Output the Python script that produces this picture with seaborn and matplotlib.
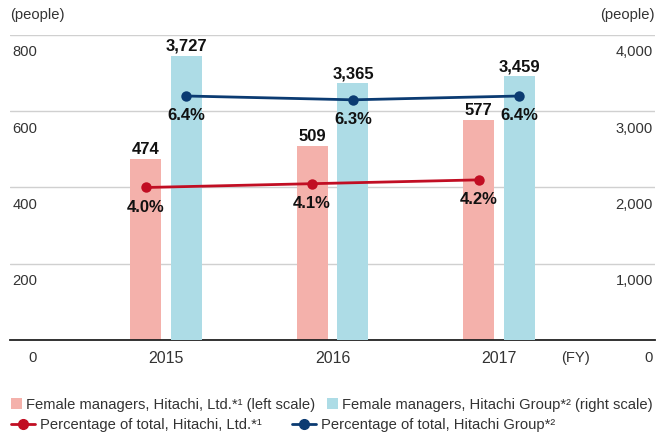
import numpy as np
import pandas as pd
import seaborn as sns
import matplotlib.pyplot as plt
from matplotlib.transforms import ScaledTranslation
from matplotlib.patches import Patch
from matplotlib.lines import Line2D

sns.set_style("white")
plt.rcParams['font.family'] = ['Liberation Sans', 'DejaVu Sans']

years = [2015, 2016, 2017]
ltd_managers = [474, 509, 577]          # left scale
group_managers = [3727, 3365, 3459]     # right scale
ltd_pct = [4.0, 4.1, 4.2]
group_pct = [6.4, 6.3, 6.4]
left_ticks = [0, 200, 400, 600, 800]
right_ticks = [0, 1000, 2000, 3000, 4000]
right_tick_labels = ["0", "1,000", "2,000", "3,000", "4,000"]

legend_labels = [
    "Female managers, Hitachi, Ltd.*¹ (left scale)",
    "Female managers, Hitachi Group*² (right scale)",
    "Percentage of total, Hitachi, Ltd.*¹",
    "Percentage of total, Hitachi Group*²",
]

PINK = "#F4B1AB"
BLUE = "#ADDCE6"
RED = "#C10E23"
NAVY = "#0B3B72"
TXT = "#333333"

W, H = 664, 436
fig = plt.figure(figsize=(W / 100, H / 100), dpi=100)
ax = fig.add_axes([10 / W, (H - 340) / H, 645 / W, 305 / H])
ax2 = ax.twinx()
ax3 = ax.twinx()

yr = np.array(years, dtype=float)
off = 0.123
bw = 0.186

df1 = pd.DataFrame({"x": yr - off, "v": ltd_managers})
df2 = pd.DataFrame({"x": yr + off, "v": group_managers})
sns.barplot(data=df1, x="x", y="v", native_scale=True, width=bw, color=PINK,
            saturation=1, ax=ax, zorder=2, linewidth=0, edgecolor="none")
sns.barplot(data=df2, x="x", y="v", native_scale=True, width=bw, color=BLUE,
            saturation=1, ax=ax2, zorder=2, linewidth=0, edgecolor="none")

sns.lineplot(x=yr - off, y=ltd_pct, ax=ax3, color=RED, lw=2, marker="o",
             markersize=7.5, markeredgewidth=0)
sns.lineplot(x=yr + off, y=group_pct, ax=ax3, color=NAVY, lw=2, marker="o",
             markersize=7.5, markeredgewidth=0)

ax.set_ylim(0, 800)
ax2.set_ylim(0, 4000)
ax3.set_ylim(0, 8)
for a in (ax, ax2, ax3):
    a.set_xlim(2015 - 0.937, 2017 + 0.937)
    a.set_xlabel("")
    a.set_ylabel("")
    for s in a.spines.values():
        s.set_visible(False)

# gridlines
ax.set_yticks(left_ticks)
ax.yaxis.grid(True, color="#d0d0d0", lw=1)
ax.set_axisbelow(True)
ax.spines["bottom"].set_visible(True)
ax.spines["bottom"].set_color("#222222")
ax.spines["bottom"].set_linewidth(1.3)
ax.spines["bottom"].set_zorder(5)

TICK_FS = 10.6
# left tick labels: inside, below gridlines
ax.set_yticklabels([str(t) for t in left_ticks])
ax.tick_params(axis="y", length=0, pad=-19.5, labelsize=TICK_FS, labelcolor=TXT)
for lab in ax.get_yticklabels():
    lab.set_horizontalalignment("right")
    lab.set_transform(lab.get_transform() + ScaledTranslation(0, -16 / 100, fig.dpi_scale_trans))

ax2.set_yticks(right_ticks)
ax2.set_yticklabels(right_tick_labels)
ax2.tick_params(axis="y", length=0, pad=0, labelsize=TICK_FS, labelcolor=TXT)
for lab in ax2.get_yticklabels():
    lab.set_horizontalalignment("right")
    lab.set_transform(lab.get_transform() + ScaledTranslation(-2 / 100, -16 / 100, fig.dpi_scale_trans))
ax3.set_yticks([])

ax.set_xticks(yr)
ax.set_xticklabels([str(y) for y in years])
ax.tick_params(axis="x", length=0, pad=8, labelsize=11.5, labelcolor=TXT)
ax2.tick_params(axis="x", length=0, labelbottom=False)
ax3.tick_params(axis="x", length=0, labelbottom=False)

# value labels
VAL_FS = 12
for x, v in zip(yr - off, ltd_managers):
    ax.annotate(f"{v:,}", (x, v), xytext=(0, 1.5), textcoords="offset points",
                ha="center", va="bottom", fontsize=VAL_FS, fontweight="bold", color="#111111")
for x, v in zip(yr + off, group_managers):
    ax2.annotate(f"{v:,}", (x, v), xytext=(0, 1.5), textcoords="offset points",
                 ha="center", va="bottom", fontsize=VAL_FS, fontweight="bold", color="#111111")
for x, v in zip(yr - off, ltd_pct):
    ax3.annotate(f"{v:.1f}%", (x, v), xytext=(0, -9), textcoords="offset points",
                 ha="center", va="top", fontsize=VAL_FS, fontweight="bold", color="#111111")
for x, v in zip(yr + off, group_pct):
    ax3.annotate(f"{v:.1f}%", (x, v), xytext=(0, -9), textcoords="offset points",
                 ha="center", va="top", fontsize=VAL_FS, fontweight="bold", color="#111111")

# axis unit labels
fig.text(10 / W, 1 - 15 / H, "(people)", ha="left", va="center", fontsize=TICK_FS, color=TXT)
fig.text(655 / W, 1 - 15 / H, "(people)", ha="right", va="center", fontsize=TICK_FS, color=TXT)
fig.text(575 / W, 1 - 358 / H, "(FY)", ha="center", va="center", fontsize=TICK_FS, color=TXT)

# legends
LEG_FS = 10.6
h1 = [Patch(facecolor=PINK, edgecolor="none"), Patch(facecolor=BLUE, edgecolor="none")]
h2 = [Line2D([], [], color=RED, lw=2, marker="o", markersize=7),
      Line2D([], [], color=NAVY, lw=2, marker="o", markersize=7)]
leg1 = fig.legend(h1, legend_labels[:2], ncol=2, loc="center left",
                  bbox_to_anchor=(11 / W, 1 - 405 / H), frameon=False, fontsize=LEG_FS,
                  handlelength=0.75, handleheight=0.75, handletextpad=0.3,
                  columnspacing=0.75, borderpad=0, borderaxespad=0, labelcolor=TXT)
leg2 = fig.legend(h2, legend_labels[2:], ncol=2, loc="center left",
                  bbox_to_anchor=(11 / W, 1 - 425 / H), frameon=False, fontsize=LEG_FS,
                  handlelength=1.65, handletextpad=0.35,
                  columnspacing=2.0, borderpad=0, borderaxespad=0, labelcolor=TXT)

fig.savefig("out.png", dpi=100)
